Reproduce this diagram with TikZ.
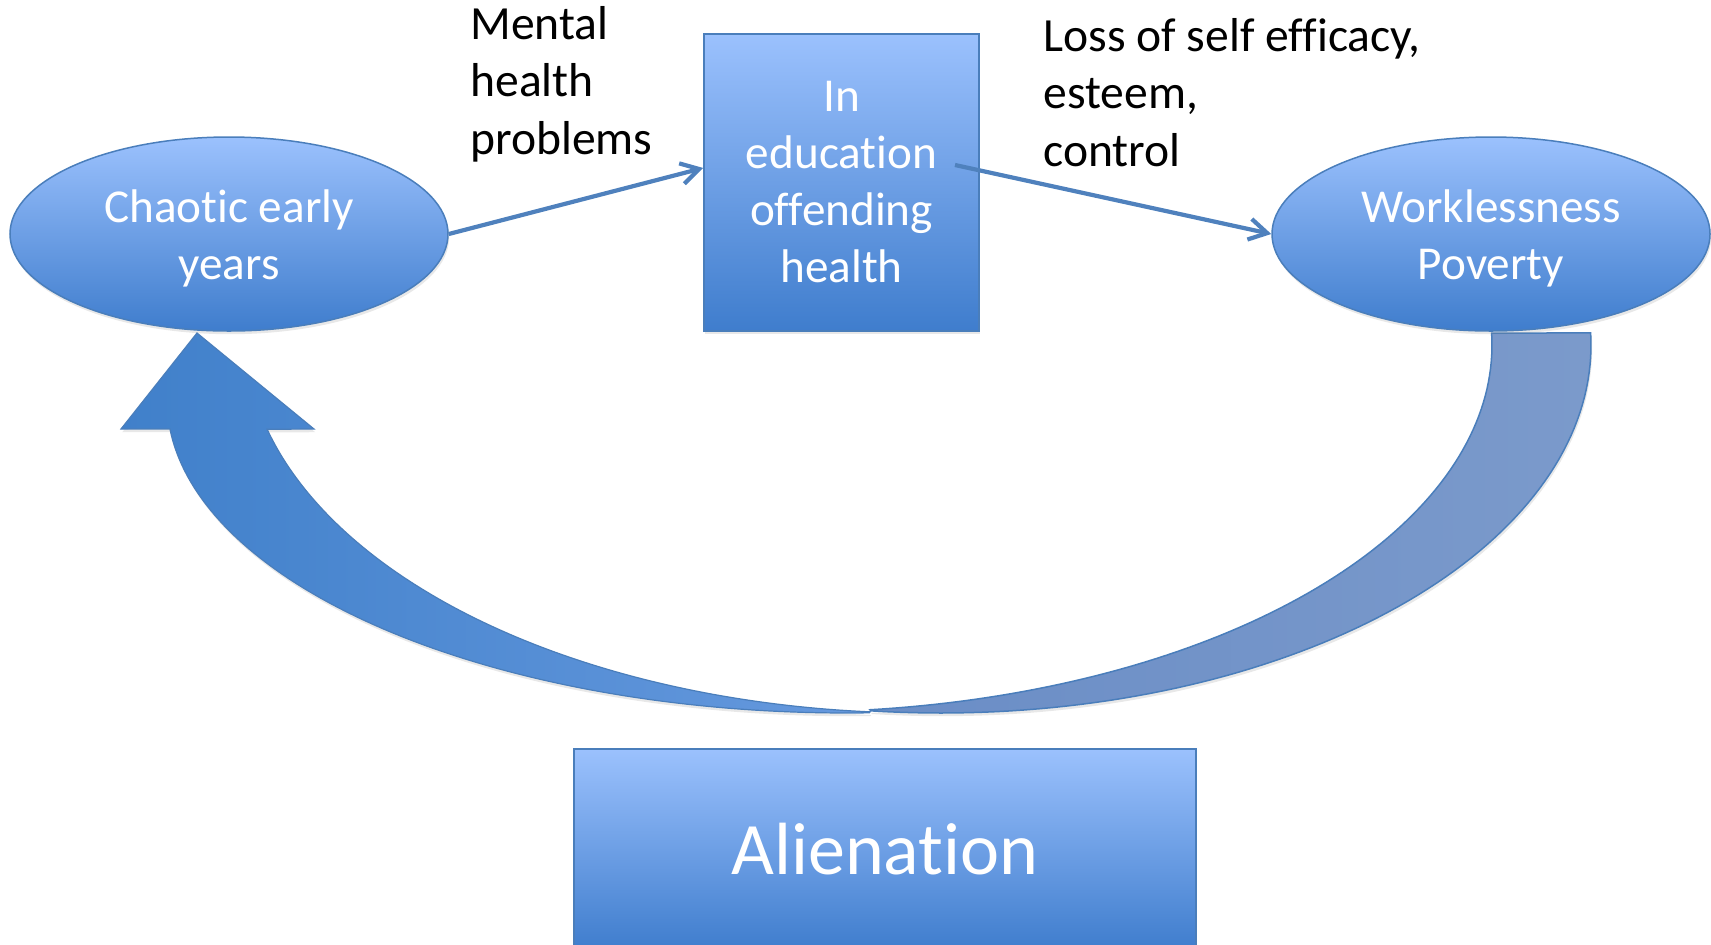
\documentclass[tikz,border=0pt]{standalone}
\usepackage{fontspec}
\setmainfont{Carlito}[Ligatures=NoCommon]
\usetikzlibrary{arrows.meta,shapes.geometric,calc,shadows}
\definecolor{lightb}{HTML}{9BC1FD}
\definecolor{midb}{HTML}{80ADF0}
\definecolor{darkb}{HTML}{3F7DCD}
\definecolor{edgeb}{HTML}{4A7EBB}
\definecolor{linkb}{HTML}{4F81BD}
\definecolor{bodyL}{HTML}{4080CA}
\definecolor{bodyR}{HTML}{6699DE}
\definecolor{cresL}{HTML}{6A8DC6}
\definecolor{cresR}{HTML}{7B9ACB}
\begin{document}
\begin{tikzpicture}[x=0.5pt,y=-0.5pt,
  shd/.style={drop shadow={opacity=0.18,shadow xshift=0.6pt,shadow yshift=-1.6pt}},
  shapefill/.style={top color=lightb, middle color=midb, bottom color=darkb, draw=edgeb, line width=0.75pt, shd},
  oval/.style={shapefill, ellipse, minimum width=219pt, minimum height=97pt, inner sep=0pt,
    text=white, align=center, font=\fontsize{23.6}{28.5}\selectfont},
  sbox/.style={shapefill, rectangle, inner sep=0pt, text=white, align=center,
    font=\fontsize{23.6}{28.5}\selectfont},
  lbl/.style={inner sep=0pt, align=left, text=black, font=\fontsize{23.8}{28.7}\selectfont},
  link/.style={draw=linkb, line width=2.1pt, -{Straight Barb[length=9pt,width=10.5pt]}},
  bodyfill/.style={left color=bodyL, right color=bodyR, draw=edgeb, line width=0.6pt, shd},
  cresfill/.style={left color=cresL, right color=cresR, draw=edgeb, line width=0.75pt, shd}
]
\useasboundingbox (0,0) rectangle (1711,944);
\clip (0,0) rectangle (1711,944);

% big curved arrow: left body with arrowhead
\path[bodyfill]
  plot[domain=0:1,samples=80] ({847+680*cos(174.7-86.64*\x)},{400+313*sin(174.7-86.64*\x)})
  -- plot[domain=0:1,samples=80] ({923+678*cos(94.48+70.89*\x)},{333+380*sin(94.48+70.89*\x)})
  -- (314,429) -- (197,333) -- (121,429) -- cycle;

% big curved arrow: right tail (crescent)
\path[cresfill]
  plot[domain=0:1,samples=80] ({941+650*cos(-1.9+98.17*\x)},{345+368*sin(-1.9+98.17*\x)})
  -- plot[domain=0:1,samples=80] ({793+699*cos(83.68-85.58*\x)},{345+367*sin(83.68-85.58*\x)})
  -- cycle;

% nodes
\node[oval] (chaos) at (229,234) {\rule{0pt}{21pt}Chaotic early\\years};
\node[oval] (work) at (1491,234) {\rule{0pt}{21pt}Worklessness\\Poverty};
\node[sbox, minimum width=137.5pt, minimum height=148.5pt] (edu) at (841.5,182.5)
  {In\\education\\offending\\health};
\node[sbox, minimum width=311pt, minimum height=100.5pt,
  font=\fontsize{37}{44}\selectfont] (alien) at (885,849.5) {Alienation};

% labels
\node[lbl, anchor=base west] (mh) at (470,154) {Mental\\health\\problems};
\node[lbl, anchor=base west] (loss) at (1043,166) {Loss of self efficacy,\\esteem,\\control};

% connectors
\coordinate (a2s) at (955,165);
\draw[link] (chaos.east) -- (edu.174.8);
\draw[link] (a2s) -- (work.west);
\end{tikzpicture}
\end{document}
